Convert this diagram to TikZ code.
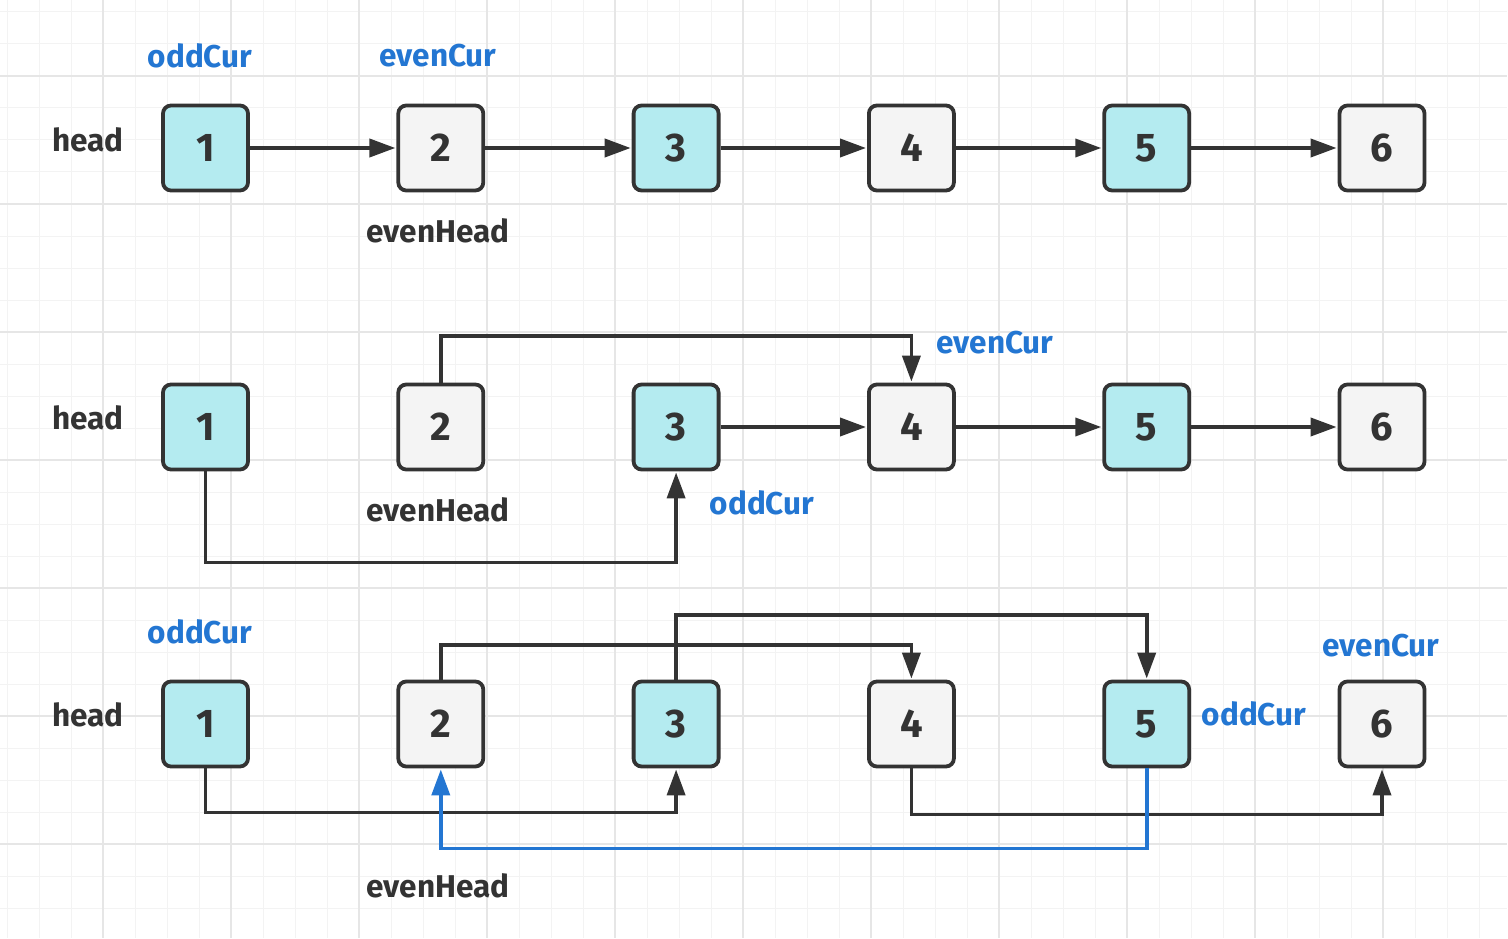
\documentclass[tikz,border=0pt]{standalone}
\usepackage{fontspec}
\setmainfont{Fira Sans}
\usetikzlibrary{arrows.meta,positioning}
\definecolor{oddfill}{RGB}{180,235,240}
\definecolor{evenfill}{RGB}{244,244,244}
\definecolor{linecol}{RGB}{51,51,51}
\definecolor{ptrblue}{RGB}{35,118,210}
\definecolor{gridminor}{RGB}{243,243,243}
\definecolor{gridmajor}{RGB}{230,230,230}

\begin{document}
\begin{tikzpicture}[x=1pt,y=-1pt,->,>={Triangle[length=26pt,width=18pt]},shorten >=1pt,
  node distance=235.3pt,line width=3.8pt,color=linecol,
  odd node/.style={draw,fill=oddfill,rounded corners=8pt,minimum size=85pt,
    font=\fontsize{40}{46}\selectfont\bfseries},
  even node/.style={odd node,fill=evenfill},
  name text/.style={font=\fontsize{31.5}{36}\selectfont\bfseries},
  ptr text/.style={font=\fontsize{31.5}{36}\selectfont\bfseries,text=ptrblue}]
  \useasboundingbox (0,0) rectangle (1508,939);
  \fill[white] (0,0) rectangle (1508,939);
  % grid
  \foreach \x in {7,39,...,1507} \draw[-,gridminor,line width=1pt] (\x,0) -- (\x,939);
  \foreach \y in {12,44,...,939} \draw[-,gridminor,line width=1pt] (0,\y) -- (1508,\y);
  \foreach \x in {103,231,...,1507} \draw[-,gridmajor,line width=1.3pt] (\x,0) -- (\x,939);
  \foreach \y in {76,204,...,939} \draw[-,gridmajor,line width=1.3pt] (0,\y) -- (1508,\y);

  % first row
  \node[odd node] (n1_top) at (205.5,148) {1};
  \node[even node] (n2_top) [right of=n1_top] {2};
  \node[odd node] (n3_top) [right of=n2_top] {3};
  \node[even node] (n4_top) [right of=n3_top] {4};
  \node[odd node] (n5_top) [right of=n4_top] {5};
  \node[even node] (n6_top) [right of=n5_top] {6};
  \node[name text] (head_top) at (88,140) {head};
  \node[ptr text] (odd_top) at (200,56) {oddCur};
  \node[ptr text] (even_top) at (438,56) {evenCur};
  \node[name text] (ehead_top) at (438,231) {evenHead};
  \path (n1_top) edge (n2_top)
    (n2_top) edge (n3_top)
    (n3_top) edge (n4_top)
    (n4_top) edge (n5_top)
    (n5_top) edge (n6_top);

  % second row
  \node[odd node] (n1_mid) at (205.5,427) {1};
  \node[even node] (n2_mid) [right of=n1_mid] {2};
  \node[odd node] (n3_mid) [right of=n2_mid] {3};
  \node[even node] (n4_mid) [right of=n3_mid] {4};
  \node[odd node] (n5_mid) [right of=n4_mid] {5};
  \node[even node] (n6_mid) [right of=n5_mid] {6};
  \node[name text] (head_mid) at (88,418) {head};
  \node[ptr text] (even_mid) at (995,343) {evenCur};
  \node[ptr text] (odd_mid) at (762,503) {oddCur};
  \node[name text] (ehead_mid) at (438,510) {evenHead};
  \draw (n2_mid.north) -- ++(0,-47) -| (n4_mid.north);
  \draw (n1_mid.south) -- ++(0,91) -| (n3_mid.south);
  \path (n3_mid) edge (n4_mid)
    (n4_mid) edge (n5_mid)
    (n5_mid) edge (n6_mid);

  % third row
  \node[odd node] (n1_bot) at (205.5,724) {1};
  \node[even node] (n2_bot) [right of=n1_bot] {2};
  \node[odd node] (n3_bot) [right of=n2_bot] {3};
  \node[even node] (n4_bot) [right of=n3_bot] {4};
  \node[odd node] (n5_bot) [right of=n4_bot] {5};
  \node[even node] (n6_bot) [right of=n5_bot] {6};
  \node[name text] (head_bot) at (88,715) {head};
  \node[ptr text] (odd_bot) at (200,632) {oddCur};
  \node[ptr text] (even_bot) at (1381,646) {evenCur};
  \node[ptr text] (odd5_bot) at (1254,714) {oddCur};
  \node[name text] (ehead_bot) at (438,886) {evenHead};
  \draw (n2_bot.north) -- ++(0,-35) -| (n4_bot.north);
  \draw (n3_bot.north) -- ++(0,-65) -| (n5_bot.north);
  \draw (n1_bot.south) -- ++(0,44) -| (n3_bot.south);
  \draw (n4_bot.south) -- ++(0,46) -| (n6_bot.south);
  \draw[ptrblue] (n5_bot.south) -- ++(0,80) -| (n2_bot.south);
\end{tikzpicture}
\end{document}
